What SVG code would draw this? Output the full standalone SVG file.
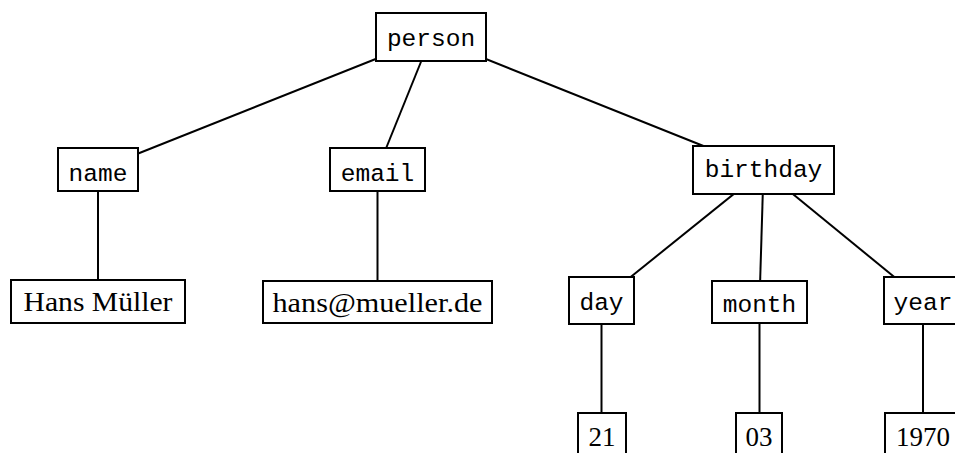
<svg xmlns="http://www.w3.org/2000/svg" width="955" height="453" viewBox="0 0 955 453">
  <style>
    .box { fill: #fff; stroke: #000; stroke-width: 2; }
    .edge { stroke: #000; stroke-width: 2; fill: none; }
    .tt { font-family: "Liberation Mono", "DejaVu Sans Mono", monospace; font-size: 24.5px; text-anchor: middle; fill: #000; }
    .rm { font-family: "Liberation Serif", "DejaVu Serif", serif; font-size: 27px; text-anchor: middle; fill: #000; }
  </style>
  <rect width="955" height="453" fill="#fff"/>

  <!-- connectors: drawn centre to centre, boxes cover the inner ends -->
  <g id="edges">
    <line class="edge" x1="431" y1="37" x2="98" y2="169.5"/>
    <line class="edge" x1="431" y1="37" x2="377.5" y2="169.5"/>
    <line class="edge" x1="431" y1="37" x2="763.5" y2="170"/>
    <line class="edge" x1="98" y1="169.5" x2="98" y2="301.5"/>
    <line class="edge" x1="377.5" y1="169.5" x2="377.5" y2="302"/>
    <line class="edge" x1="763.5" y1="170" x2="601.5" y2="300.5"/>
    <line class="edge" x1="763.5" y1="170" x2="759.5" y2="302"/>
    <line class="edge" x1="763.5" y1="170" x2="923" y2="300.5"/>
    <line class="edge" x1="601.5" y1="300.5" x2="601.5" y2="434"/>
    <line class="edge" x1="759.5" y1="302" x2="759.5" y2="434"/>
    <line class="edge" x1="923" y1="300.5" x2="923" y2="434"/>
  </g>

  <g id="person">
    <rect class="box" x="376" y="13" width="110" height="48"/>
    <text class="tt" x="431" y="46">person</text>
  </g>
  <g id="name">
    <rect class="box" x="58" y="148" width="80" height="43"/>
    <text class="tt" x="98" y="181">name</text>
  </g>
  <g id="email">
    <rect class="box" x="330" y="148" width="95" height="43"/>
    <text class="tt" x="377.5" y="181">email</text>
  </g>
  <g id="birthday">
    <rect class="box" x="693" y="146" width="141" height="48"/>
    <text class="tt" x="763.5" y="177">birthday</text>
  </g>
  <g id="name-value">
    <rect class="box" x="11" y="280" width="174" height="43"/>
    <text class="rm" x="98" y="311" textLength="149" lengthAdjust="spacingAndGlyphs">Hans Müller</text>
  </g>
  <g id="email-value">
    <rect class="box" x="263" y="281" width="229" height="42"/>
    <text class="rm" x="377.5" y="312" textLength="210" lengthAdjust="spacingAndGlyphs">hans@mueller.de</text>
  </g>
  <g id="day">
    <rect class="box" x="569" y="277" width="65" height="47"/>
    <text class="tt" x="601.5" y="310">day</text>
  </g>
  <g id="month">
    <rect class="box" x="712" y="281" width="95" height="42"/>
    <text class="tt" x="759.5" y="312">month</text>
  </g>
  <g id="year">
    <rect class="box" x="884" y="277" width="78" height="47"/>
    <text class="tt" x="923" y="310">year</text>
  </g>
  <g id="day-value">
    <rect class="box" x="578" y="413" width="48" height="44"/>
    <text class="rm" x="602" y="446">21</text>
  </g>
  <g id="month-value">
    <rect class="box" x="736" y="413" width="46" height="44"/>
    <text class="rm" x="759" y="446">03</text>
  </g>
  <g id="year-value">
    <rect class="box" x="885" y="413" width="78" height="44"/>
    <text class="rm" x="923" y="446">1970</text>
  </g>
</svg>
